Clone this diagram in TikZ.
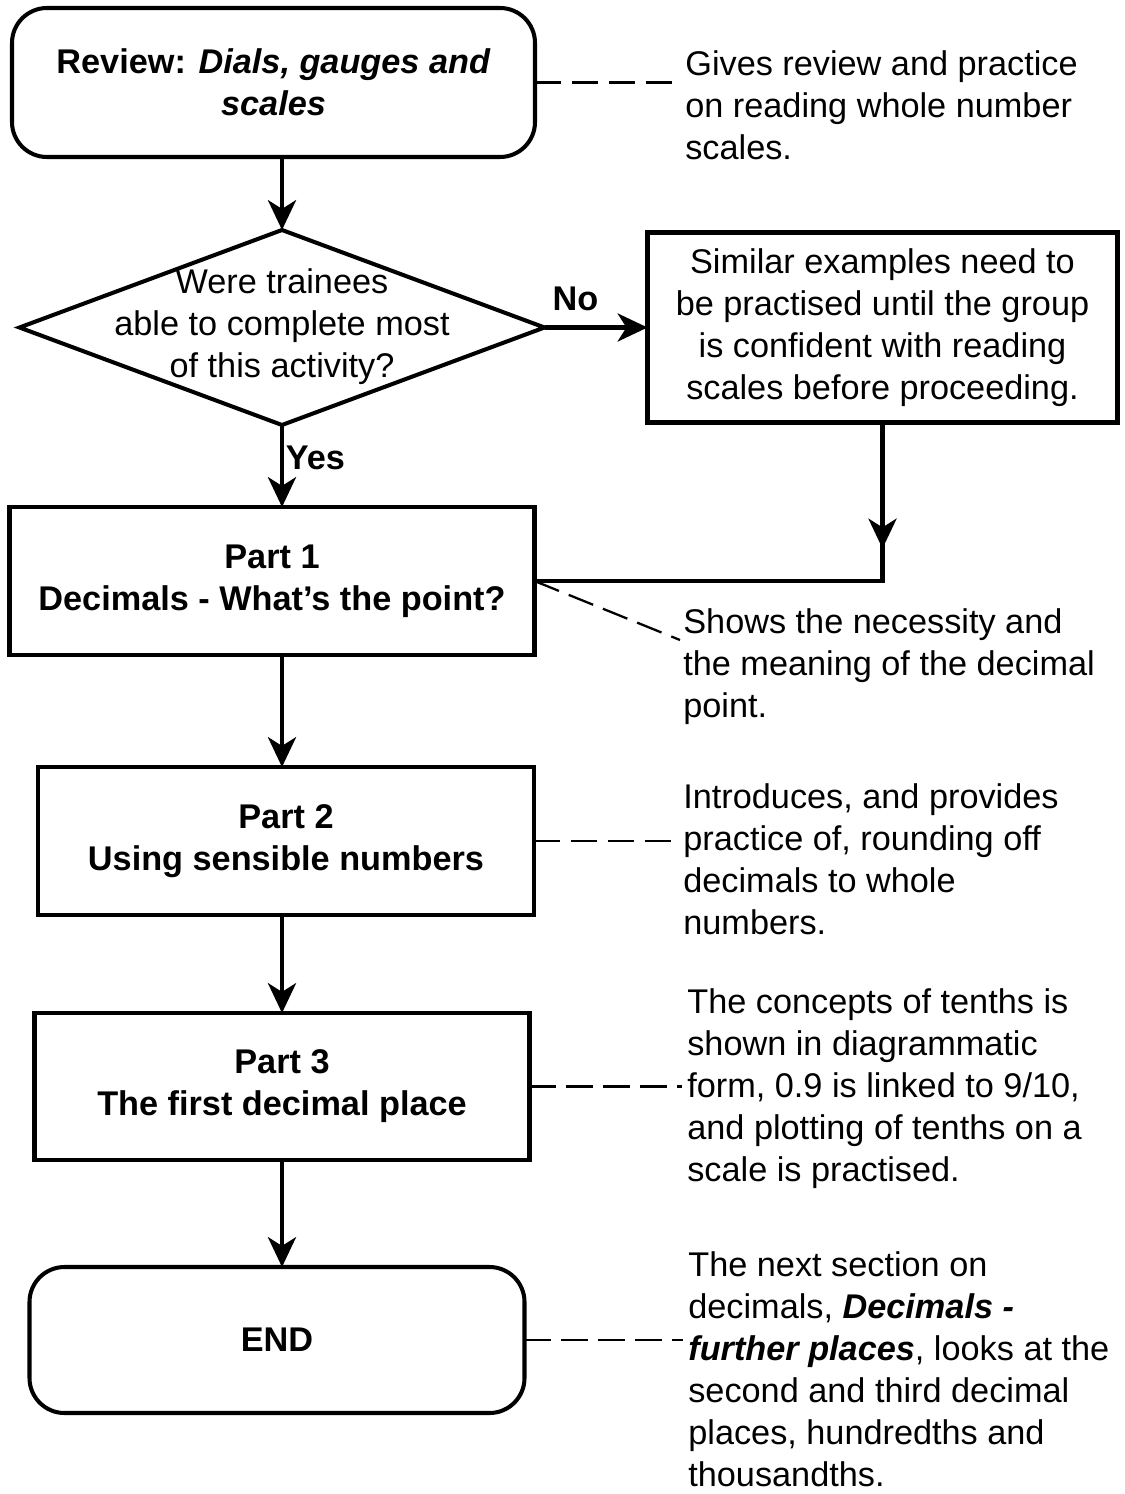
\documentclass[tikz,border=0pt]{standalone}
\usepackage{fontspec}
\setmainfont{Liberation Sans}
\usetikzlibrary{positioning,shapes.geometric,arrows.meta}
\begin{document}
\begin{tikzpicture}[font=\fontsize{19.5}{23.9}\selectfont,
	box/.style={draw,line width=2.3pt,align=center,inner sep=0pt,outer sep=0pt},
	stage/.style={box,font=\fontsize{19.5}{23.9}\selectfont\bfseries},
	note/.style={align=left,anchor=west,inner sep=0pt},
	arr/.style={-{Stealth[length=17pt,width=16pt,inset=5pt]},line width=2.3pt},
	dashline/.style={line width=1.3pt,dash pattern=on 15pt off 6pt}]
	\useasboundingbox (0,0) rectangle (22.5,-29.88);
	% flow
	\node[stage,rounded corners=0.7cm,minimum width=10.46cm,minimum height=2.98cm] (review) at (5.47,-1.65) {Review: \textit{Dials, gauges and}\\\textit{scales}};
	\node[diamond,draw,line width=2.3pt,inner sep=0pt,outer sep=0pt,minimum width=10.5cm,minimum height=3.9cm,below=1.46cm of review,xshift=0.17cm,
		label={[align=center,yshift=0.02cm]center:Were trainees\\able to complete most\\of this activity?}] (check) {};
	\node[box,minimum width=9.4cm,minimum height=3.8cm,right=2.06cm of check] (redo) {Similar examples need to\\be practised until the group\\is confident with reading\\scales before proceeding.};
	\node[stage,minimum width=10.5cm,minimum height=2.96cm,below=1.64cm of check,xshift=-0.2cm] (part1) {Part 1\\Decimals - What's the point?};
	\node[stage,minimum width=9.92cm,minimum height=2.96cm,below=2.24cm of part1,xshift=0.28cm] (part2) {Part 2\\Using sensible numbers};
	\node[stage,minimum width=9.9cm,minimum height=2.94cm,below=1.96cm of part2,xshift=-0.08cm] (part3) {Part 3\\The first decimal place};
	\node[stage,rounded corners=0.7cm,minimum width=9.9cm,minimum height=2.92cm,below=2.14cm of part3,xshift=-0.1cm] (end) {END};
	% notes
	\node[note] (n1) at (13.7,-2.10) {Gives review and practice\\on reading whole number\\scales.};
	\node[note] (n2) at (13.66,-13.34) {Shows the necessity and\\the meaning of the decimal\\point.};
	\node[note] (n3) at (13.66,-17.19) {Introduces, and provides\\practice of, rounding off\\decimals to whole\\numbers.};
	\node[note] (n4) at (13.74,-21.78) {The concepts of tenths is\\shown in diagrammatic\\form, 0.9 is linked to 9/10,\\and plotting of tenths on a\\scale is practised.};
	\node[note] (n5) at (13.76,-27.38) {The next section on\\decimals, \textbf{\textit{Decimals -}}\\\textbf{\textit{further places}}, looks at the\\second and third decimal\\places, hundredths and\\thousandths.};
	\coordinate (merge) at ([yshift=-2.52cm]redo.south);
	\coordinate (n2tip) at ([shift={(-0.06,0.54)}]n2.west);
	% arrows
	\draw[arr] (review.south -| check) -- (check);
	\draw[arr] (check.east) -- node[pos=0.3,above=5pt,font=\fontsize{19.5}{23.9}\selectfont\bfseries] (no) {No} (check.east -| redo.west);
	\draw[arr] (check) -- node[pos=0.4,right,inner sep=1pt,font=\fontsize{19.5}{23.9}\selectfont\bfseries] (yes) {Yes} (part1.north -| check);
	\draw[line width=2.3pt] (redo.south) |- (part1.east);
	\draw[arr] (redo) -- (merge);
	\draw[arr] (part1.south -| check) -- (part2.north -| check);
	\draw[arr] (part2.south -| check) -- (part3.north -| check);
	\draw[arr] (part3.south -| check) -- (end.north -| check);
	% dashed links
	\draw[dashline] (review.east) -- ([xshift=-0.1cm]review.east -| n1.west);
	\draw[dashline] (part1.east) -- (n2tip);
	\draw[dashline] (part2.east) -- ([xshift=-0.1cm]part2.east -| n3.west);
	\draw[dashline] (part3.east) -- ([xshift=-0.1cm]part3.east -| n4.west);
	\draw[dashline] (end.east) -- ([xshift=-0.1cm]end.east -| n5.west);
\end{tikzpicture}
\end{document}
